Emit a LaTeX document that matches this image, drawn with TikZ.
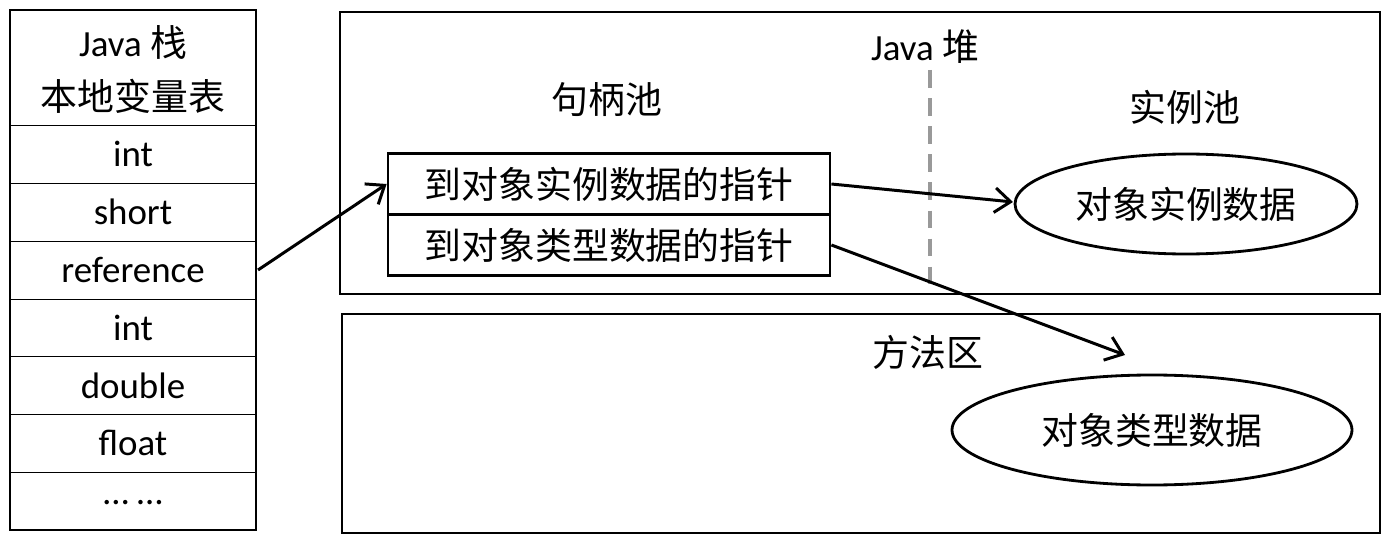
\documentclass[tikz,border=0pt]{standalone}
\usepackage{fontspec}
\setmainfont{Carlito}
\newfontfamily\cjk{Noto Sans CJK SC}
\usetikzlibrary{arrows.meta}
\begin{document}
\begin{tikzpicture}[x=0.02cm,y=-0.02cm,
  every node/.style={font=\fontsize{21}{26}\selectfont},
  box/.style={draw,line width=1.6pt},
  cell/.style={draw,line width=0.5pt},
  arr/.style={-{Straight Barb[length=9pt,width=14pt]},line width=1.7pt}]
\useasboundingbox (0,0) rectangle (1387,544);
% stack
\draw[box] (10,10) rectangle (256,530);
\foreach \y in {125,183,241,299,356,414,472} \draw[cell] (10,\y) -- (256,\y);
\node (h1) at (133,42) {Java {\cjk 栈}};
\node (h2) at (133,96) {\cjk 本地变量表};
\node (r1) at (133,154) {int};
\node (r2) at (133,212) {short};
\node (r3) at (133,270) {reference};
\node (r4) at (133,328) {int};
\node (r5) at (133,386) {double};
\node (r6) at (133,443) {float};
\node (r7) at (133,503) {… …};
\coordinate (refR) at (258,270);
% heap
\draw[box] (340,12) rectangle (1380,294);
\draw[gray!80,line width=2pt,dash pattern=on 10pt off 6pt] (930,70) -- (930,294);
\node (heap) at (925,47) {Java {\cjk 堆}};
\node (hp) at (607,100) {\cjk 句柄池};
\node (ip) at (1185,107) {\cjk 实例池};
\node[box,minimum width=442*0.02cm,minimum height=61*0.02cm,inner sep=0pt] (b1) at (609,184) {\cjk 到对象实例数据的指针};
\node[box,minimum width=442*0.02cm,minimum height=61*0.02cm,inner sep=0pt] (b2) at (609,245) {\cjk 到对象类型数据的指针};
\draw[box] (1186,204) ellipse [x radius=171,y radius=50];
\node (e1) at (1186,204) {\cjk 对象实例数据};
% method area
\draw[box] (342,314) rectangle (1380,533);
\node (ma) at (928,352) {\cjk 方法区};
\draw[box] (1152,430) ellipse [x radius=200,y radius=55];
\node (e2) at (1152,430) {\cjk 对象类型数据};
\coordinate (e1L) at (1013,202);
\coordinate (e2T) at (1125,355);
\draw[arr] (refR) -- (b1.west);
\draw[arr] (b1.east) -- (e1L);
\draw[arr] (b2.east) -- (e2T);
\end{tikzpicture}
\end{document}
